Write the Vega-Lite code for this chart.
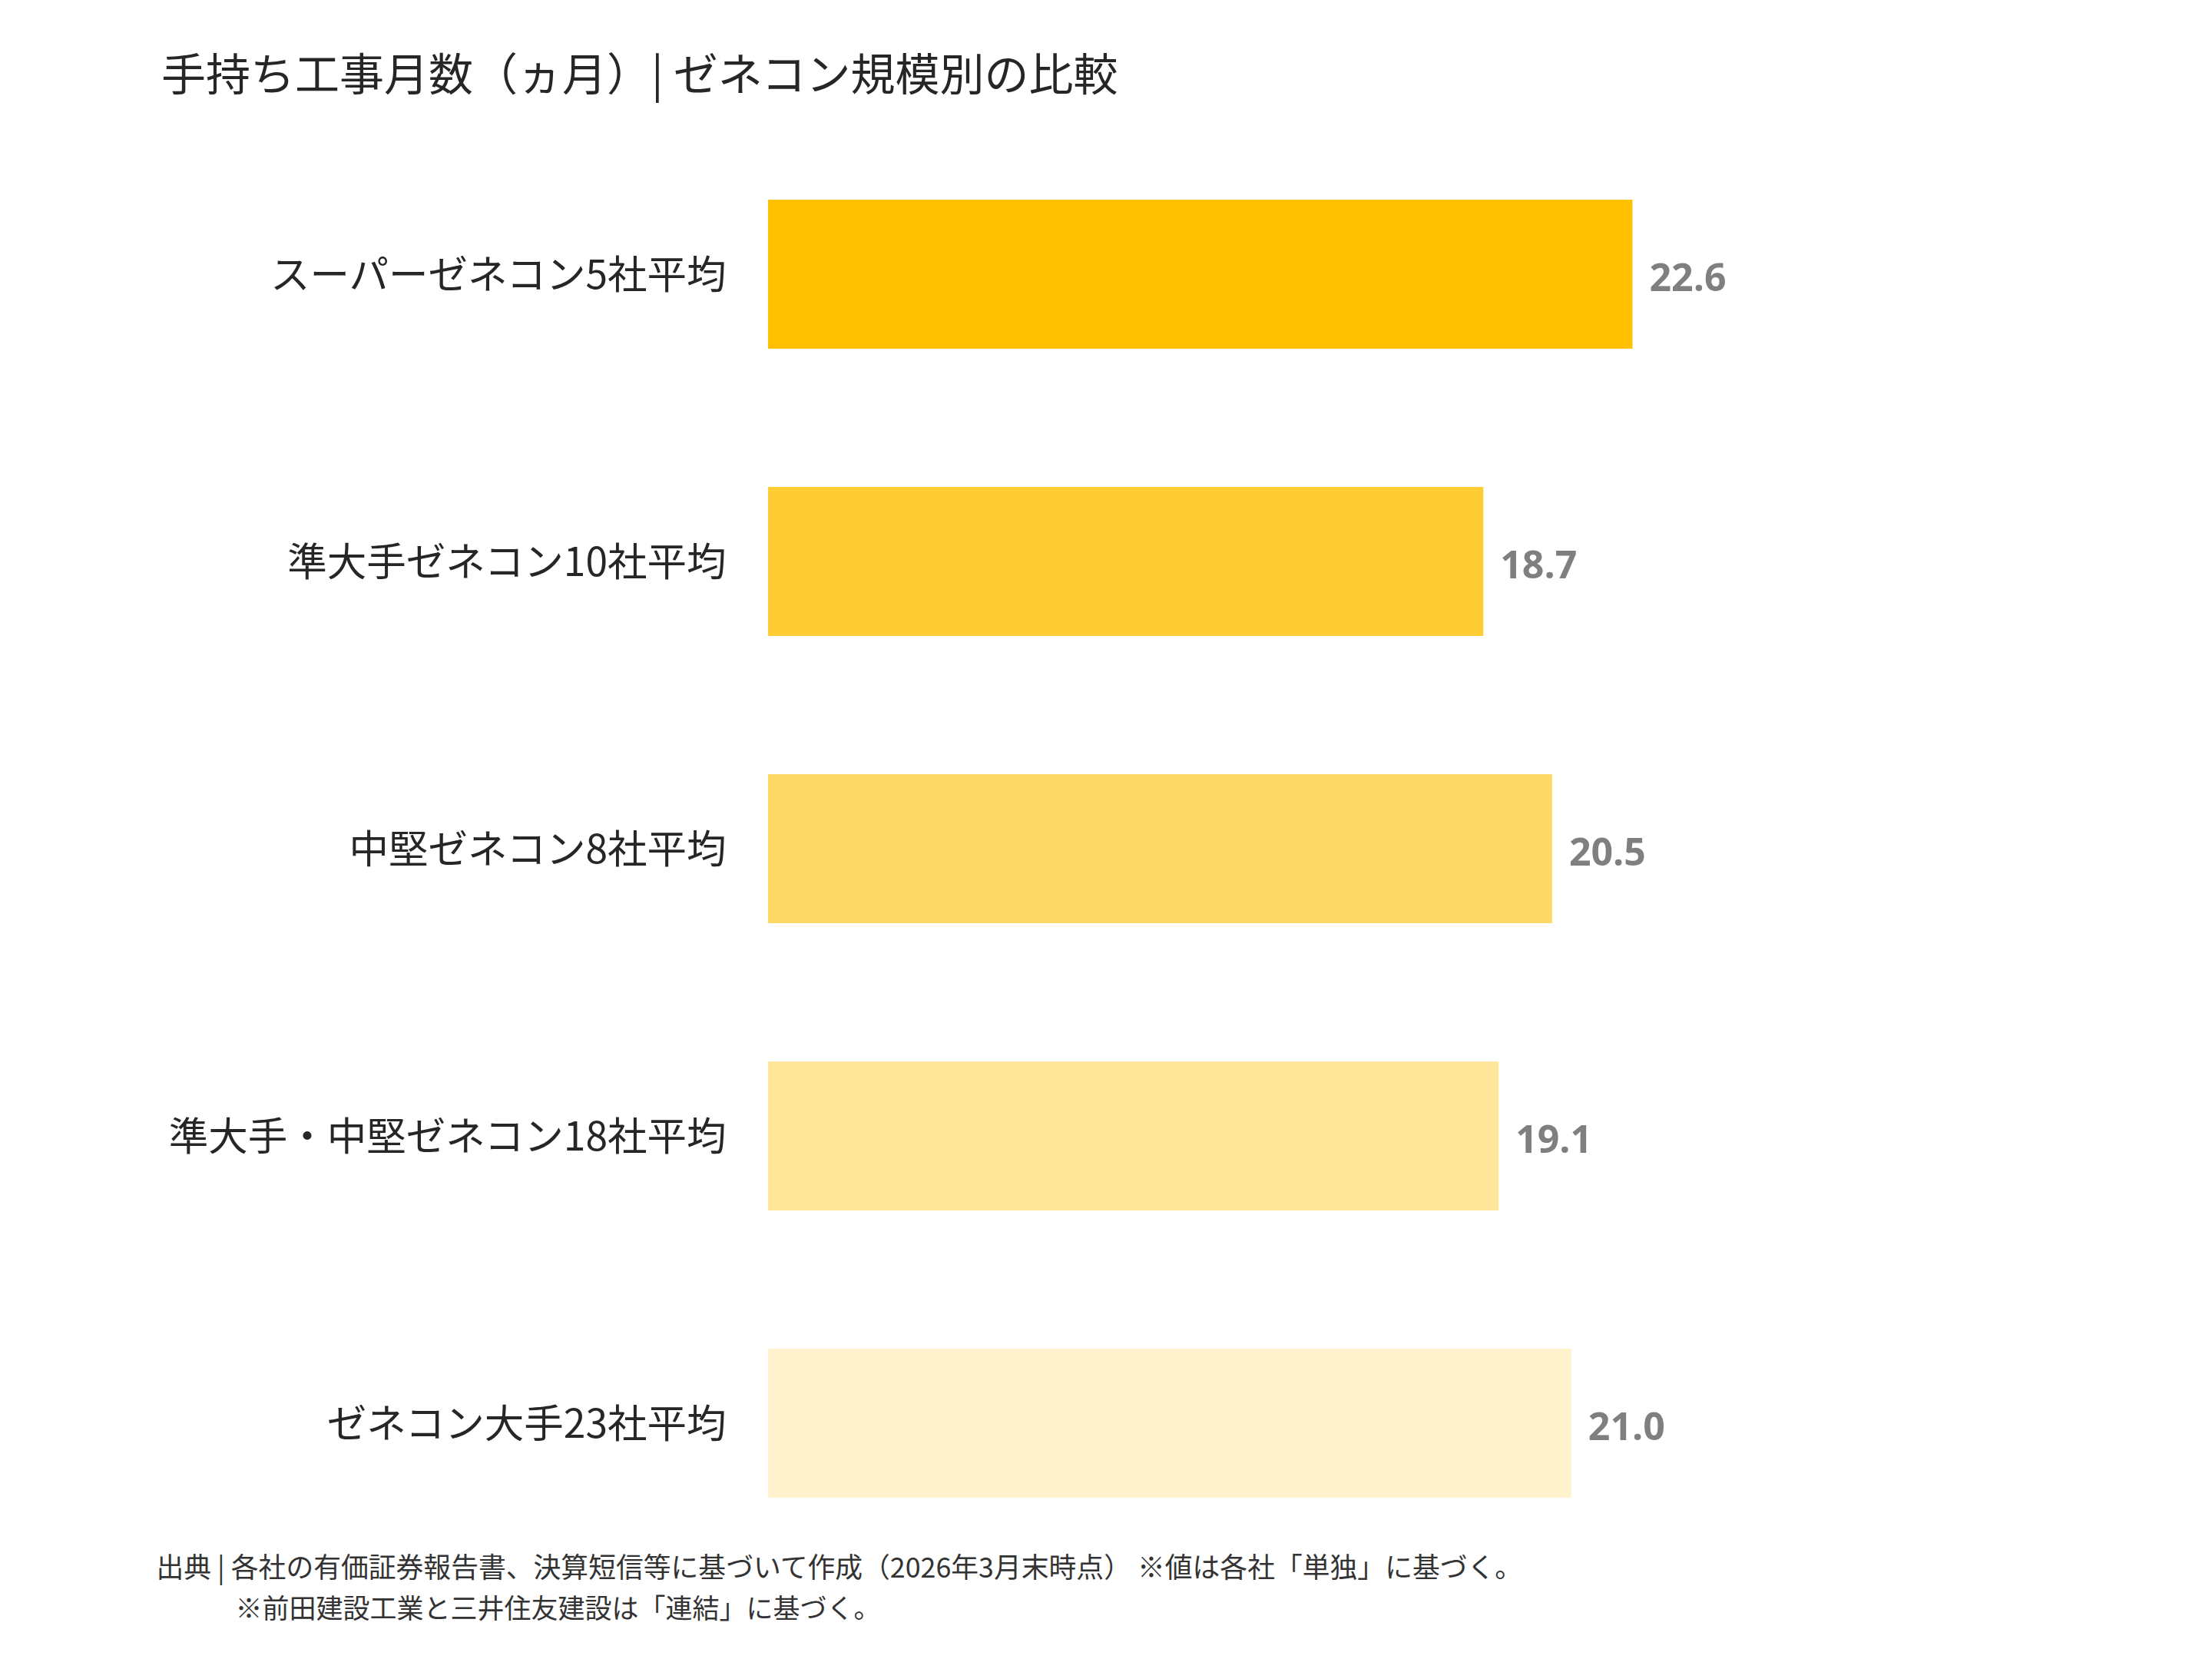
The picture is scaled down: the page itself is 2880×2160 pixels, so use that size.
{
  "$schema": "https://vega.github.io/schema/vega-lite/v6.json",
  "autosize": "none",
  "width": 1245,
  "height": 1690,
  "padding": {"left": 1000, "top": 260, "right": 635, "bottom": 210},
  "background": "#ffffff",
  "title": {
    "text": "手持ち工事月数（ヵ月）| ゼネコン規模別の比較",
    "anchor": "start",
    "frame": "group",
    "dx": -790,
    "offset": 130,
    "font": "Noto Sans CJK JP",
    "fontSize": 58,
    "fontWeight": "normal",
    "color": "#262626"
  },
  "data": {
    "values": [
      {"group": "スーパーゼネコン5社平均", "months": 22.6},
      {"group": "準大手ゼネコン10社平均", "months": 18.7},
      {"group": "中堅ゼネコン8社平均", "months": 20.5},
      {"group": "準大手・中堅ゼネコン18社平均", "months": 19.1},
      {"group": "ゼネコン大手23社平均", "months": 21.0}
    ]
  },
  "encoding": {
    "y": {
      "field": "group",
      "type": "nominal",
      "sort": null,
      "scale": {"paddingInner": 0.481, "paddingOuter": 0},
      "axis": {
        "title": "※前田建設工業と三井住友建設は「連結」に基づく。",
        "titleFont": "Noto Sans CJK JP",
        "titleFontSize": 35,
        "titleFontWeight": "normal",
        "titleColor": "#333333",
        "titleAngle": 0,
        "titleAlign": "left",
        "titleBaseline": "top",
        "titleX": -694,
        "titleY": 1818,
        "domain": false,
        "ticks": false,
        "tickSize": 0,
        "labelFont": "Noto Sans CJK JP",
        "labelFontSize": 51.5,
        "labelColor": "#262626",
        "labelPadding": 55,
        "labelOffset": 4,
        "labelLimit": 1200
      }
    },
    "x": {
      "field": "months",
      "type": "quantitative",
      "scale": {"domain": [0, 25], "nice": false},
      "axis": {
        "title": "出典 | 各社の有価証券報告書、決算短信等に基づいて作成（2026年3月末時点） ※値は各社「単独」に基づく。",
        "titleFont": "Noto Sans CJK JP",
        "titleFontSize": 35.8,
        "titleFontWeight": "normal",
        "titleColor": "#333333",
        "titleAnchor": "start",
        "titleAlign": "left",
        "titleBaseline": "top",
        "titleX": -797,
        "titleY": 75,
        "domain": false,
        "ticks": false,
        "labels": false,
        "grid": false
      }
    }
  },
  "layer": [
    {
      "mark": {"type": "bar"},
      "encoding": {
        "color": {
          "field": "group",
          "type": "nominal",
          "scale": {
            "domain": ["スーパーゼネコン5社平均", "準大手ゼネコン10社平均", "中堅ゼネコン8社平均", "準大手・中堅ゼネコン18社平均", "ゼネコン大手23社平均"],
            "range": ["#FFC000", "#FFCD33", "#FFD966", "#FFE699", "#FFF2CC"]
          },
          "legend": null
        }
      }
    },
    {
      "mark": {
        "type": "text",
        "align": "left",
        "baseline": "middle",
        "dx": 22,
        "dy": 7,
        "font": "Open Sans",
        "fontWeight": "bold",
        "fontSize": 50,
        "color": "#7F7F7F"
      },
      "encoding": {
        "text": {"field": "months", "type": "quantitative", "format": ".1f"}
      }
    }
  ],
  "config": {"view": {"stroke": null}}
}
